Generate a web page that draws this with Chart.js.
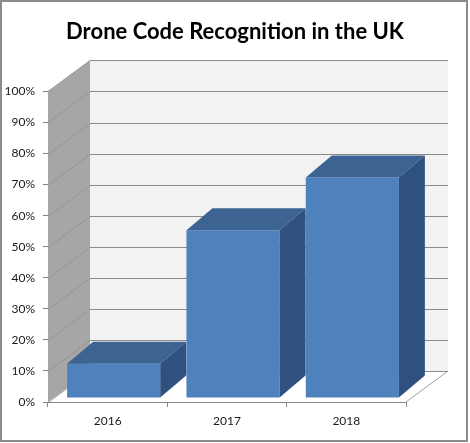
<!DOCTYPE html>
<html>
<head>
<meta charset="utf-8">
<script src="https://cdn.jsdelivr.net/npm/chart.js@4.4.0/dist/chart.umd.min.js"></script>
<style>
  body { margin: 0; background: #fff; }
  #wrap { width: 470px; height: 443px; position: relative; }
</style>
</head>
<body>
<div id="wrap"><canvas id="myChart"></canvas></div>
<script>
// data
const years = ['2016', '2017', '2018'];
const recognition = [11, 54, 71];
const yTicks = [0, 10, 20, 30, 40, 50, 60, 70, 80, 90, 100];

// 👉 depth of the walls and of the columns
const wall = { dx: 42, dy: -31 };
const col = { dx: 26, dy: -22, shiftX: 6, shiftY: -4 };

const fake3d = {
  id: 'fake3d',
  beforeDraw(chart) {
    const ctx = chart.ctx;
    const a = chart.chartArea;
    const y = chart.scales.y;

    // back wall
    ctx.save();
    ctx.fillStyle = '#f2f2f2';
    ctx.fillRect(a.left + wall.dx, a.top + wall.dy, a.right - a.left, a.bottom - a.top);

    // side wall
    ctx.fillStyle = '#a6a6a6';
    ctx.beginPath();
    ctx.moveTo(a.left, a.top);
    ctx.lineTo(a.left + wall.dx, a.top + wall.dy);
    ctx.lineTo(a.left + wall.dx, a.bottom + wall.dy);
    ctx.lineTo(a.left, a.bottom);
    ctx.closePath();
    ctx.fill();

    // floor
    ctx.fillStyle = '#ffffff';
    ctx.strokeStyle = '#a0a0a0';
    ctx.lineWidth = 1;
    ctx.beginPath();
    ctx.moveTo(a.left, a.bottom);
    ctx.lineTo(a.right, a.bottom);
    ctx.lineTo(a.right + wall.dx, a.bottom + wall.dy);
    ctx.lineTo(a.left + wall.dx, a.bottom + wall.dy);
    ctx.closePath();
    ctx.fill();
    ctx.beginPath();
    ctx.moveTo(a.right, a.bottom);
    ctx.lineTo(a.right + wall.dx, a.bottom + wall.dy);
    ctx.stroke();

    // gridlines on both walls
    yTicks.forEach(v => {
      const py = Math.round(y.getPixelForValue(v)) + 0.5;
      ctx.strokeStyle = '#969696';
      ctx.beginPath();
      ctx.moveTo(a.left, py);
      ctx.lineTo(a.left + wall.dx, py + wall.dy);
      ctx.stroke();
      ctx.strokeStyle = '#8a8a8a';
      ctx.lineWidth = 1.2;
      ctx.beginPath();
      ctx.moveTo(a.left + wall.dx, py + wall.dy);
      ctx.lineTo(a.right + wall.dx, py + wall.dy);
      ctx.stroke();
      ctx.lineWidth = 1;
    });
    ctx.restore();
  },
  beforeDatasetsDraw(chart) {
    chart.ctx.save();
    chart.ctx.translate(col.shiftX, col.shiftY);
  },
  afterDatasetsDraw(chart) {
    const ctx = chart.ctx;
    chart.getDatasetMeta(0).data.forEach(bar => {
      const l = bar.x - bar.width / 2;
      const r = bar.x + bar.width / 2;
      // top
      ctx.fillStyle = '#3c6392';
      ctx.beginPath();
      ctx.moveTo(l, bar.y);
      ctx.lineTo(l + col.dx, bar.y + col.dy);
      ctx.lineTo(r + col.dx, bar.y + col.dy);
      ctx.lineTo(r, bar.y);
      ctx.closePath();
      ctx.fill();
      // side
      ctx.fillStyle = '#2f5180';
      ctx.beginPath();
      ctx.moveTo(r, bar.y);
      ctx.lineTo(r + col.dx, bar.y + col.dy);
      ctx.lineTo(r + col.dx, bar.base + col.dy);
      ctx.lineTo(r, bar.base);
      ctx.closePath();
      ctx.fill();
    });
    ctx.restore();
  },
  afterDraw(chart) {
    const ctx = chart.ctx;
    ctx.save();
    ctx.strokeStyle = '#8c8c8c';
    ctx.lineWidth = 2;
    ctx.strokeRect(1, 1, 466, 440);
    ctx.restore();
  }
};

const ctx = document.getElementById('myChart');

new Chart(ctx, {
  type: 'bar',
  data: {
    labels: years,
    datasets: [{
      data: recognition,
      backgroundColor: '#4f81bd',
      categoryPercentage: 0.78,
      barPercentage: 1
    }]
  },
  options: {
    responsive: true,
    maintainAspectRatio: false,
    animation: false,
    layout: { padding: 0 },
    plugins: {
      legend: { display: false },
      tooltip: { enabled: false },
      title: {
        display: true,
        text: 'Drone Code Recognition in the UK',
        color: '#000',
        font: { family: 'Lato', size: 22, weight: 'bold', lineHeight: 1.2 },
        padding: { top: 19, bottom: 46 }
      }
    },
    scales: {
      x: {
        offset: true,
        grid: {
          display: true,
          offset: true,
          drawOnChartArea: false,
          drawTicks: true,
          tickLength: 5,
          color: '#868686'
        },
        border: { display: true, color: '#868686' },
        ticks: {
          color: '#1a1a1a',
          padding: 7,
          font: { family: 'Lato', size: 12 }
        },
        afterFit(scale) { scale.height = 41; }
      },
      y: {
        min: 0,
        max: 100,
        grid: {
          display: true,
          drawOnChartArea: false,
          tickLength: 5,
          color: '#868686'
        },
        border: { display: false },
        ticks: {
          stepSize: 10,
          color: '#1a1a1a',
          padding: 8,
          font: { family: 'Lato', size: 12 },
          callback: v => v + '%'
        },
        afterFit(scale) { scale.width = 48; }
      },
      // empty axis on the right, only keeps room for the 3D depth
      yRight: {
        position: 'right',
        grid: { display: false },
        border: { display: false },
        ticks: { display: false },
        afterFit(scale) { scale.width = 64; }
      }
    }
  },
  plugins: [fake3d]
});
</script>
</body>
</html>
